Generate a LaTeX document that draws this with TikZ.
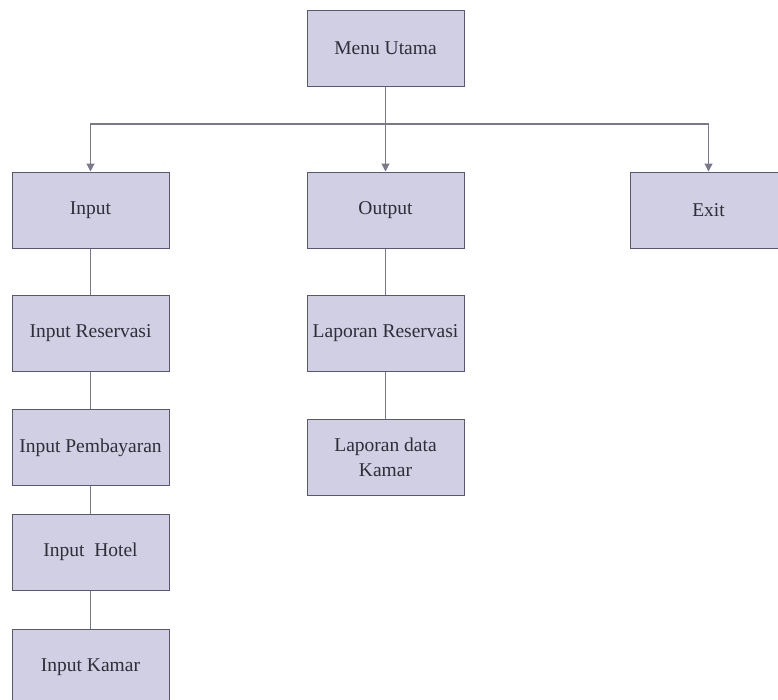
\documentclass[tikz,border=0pt]{standalone}
\usepackage{fontspec}
\setmainfont{Liberation Serif}
\usetikzlibrary{arrows.meta}
\definecolor{boxfill}{HTML}{D0CFE3}
\definecolor{boxline}{HTML}{5A5870}
\definecolor{linkline}{HTML}{7A7988}
\definecolor{labeltext}{HTML}{2E2D38}
\tikzset{
  menubox/.style={draw=boxline, line width=1pt, fill=boxfill,
    minimum width=157pt, minimum height=76pt, inner sep=2pt,
    align=center, text=labeltext,
    font=\fontsize{19.5}{25}\selectfont},
  link/.style={draw=linkline, line width=1.1pt},
  arrowlink/.style={link, -{Triangle[width=8pt,length=8pt]}}
}
\begin{document}
\begin{tikzpicture}[x=1pt,y=-1pt]
  \clip (0,0) rectangle (778,699);
  \fill[white] (0,0) rectangle (778,699);

  % top level
  \node[menubox] (menu) at (385.5,48) {Menu Utama};
  \coordinate (bus) at (385.5,124);

  % second level
  \node[menubox] (input)  at (90.5,210)  {Input};
  \node[menubox] (output) at (385.5,210) {Output};
  \node[menubox] (exit)   at (708.5,210) {Exit};

  % input branch
  \node[menubox] (inres)  at (90.5,333.5) {Input Reservasi};
  \node[menubox] (inbayar) at (90.5,447.5) {Input Pembayaran};
  \node[menubox] (inhotel) at (90.5,552)  {Input~ Hotel};
  \node[menubox] (inkamar) at (90.5,667)  {Input Kamar};

  % output branch
  \node[menubox] (lapres)   at (385.5,333) {Laporan Reservasi};
  \node[menubox] (lapkamar) at (385.5,457) {Laporan data\\Kamar};

  % connectors
  \draw[link] (menu.south) -- (bus);
  \draw[arrowlink] (bus) -| (input.north);
  \draw[arrowlink] (bus) -- (output.north);
  \draw[arrowlink] (bus) -| (exit.north);

  \draw[link] (input.south) -- (inres.north);
  \draw[link] (inres.south) -- (inbayar.north);
  \draw[link] (inbayar.south) -- (inhotel.north);
  \draw[link] (inhotel.south) -- (inkamar.north);

  \draw[link] (output.south) -- (lapres.north);
  \draw[link] (lapres.south) -- (lapkamar.north);
\end{tikzpicture}
\end{document}
